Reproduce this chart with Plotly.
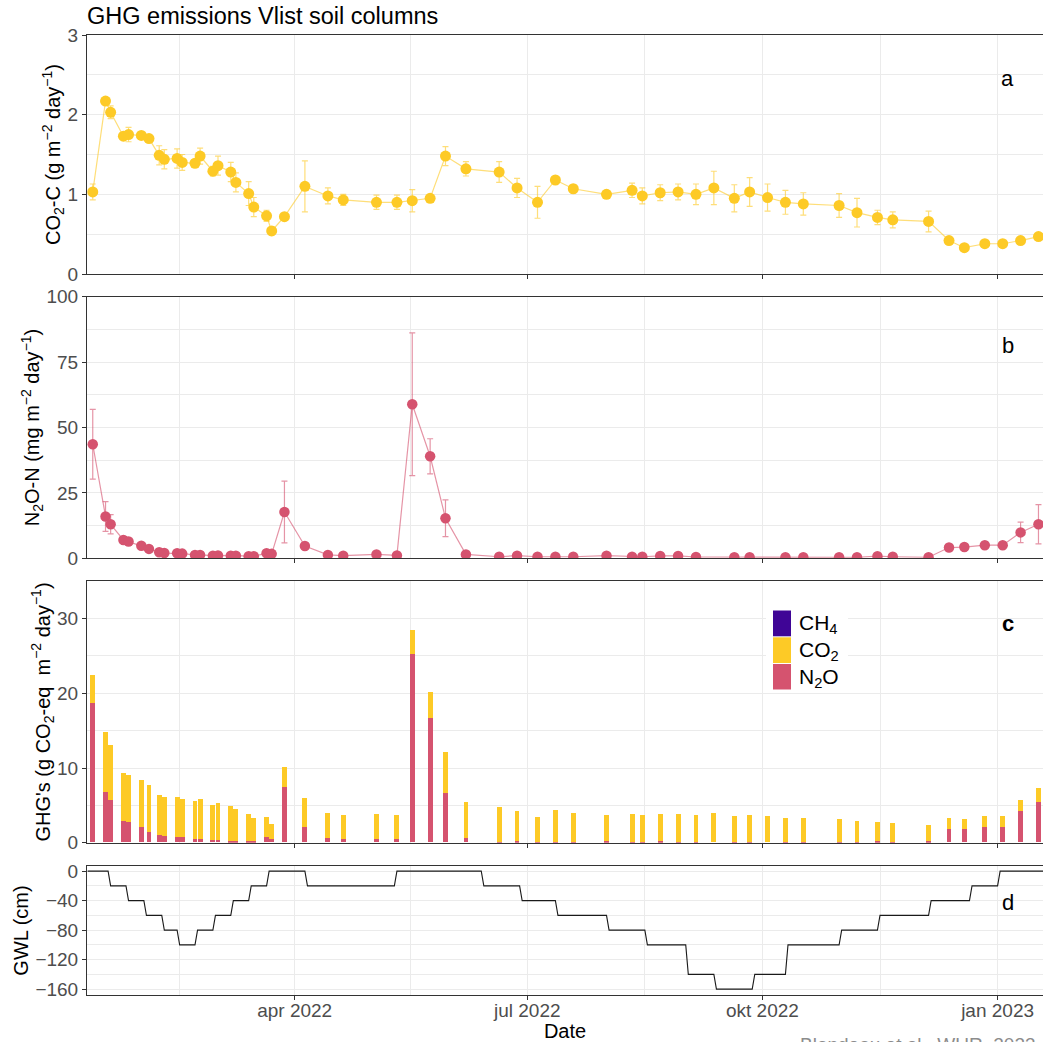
import plotly.graph_objects as go

# ---------------- data ----------------
dates = ["2022-01-12", "2022-01-17", "2022-01-19", "2022-01-24", "2022-01-26", "2022-01-31",
         "2022-02-03", "2022-02-07", "2022-02-09", "2022-02-14", "2022-02-16", "2022-02-21",
         "2022-02-23", "2022-02-28", "2022-03-02", "2022-03-07", "2022-03-09", "2022-03-14",
         "2022-03-16", "2022-03-21", "2022-03-23", "2022-03-28", "2022-04-05", "2022-04-14",
         "2022-04-20", "2022-05-03", "2022-05-11", "2022-05-17", "2022-05-24", "2022-05-30",
         "2022-06-07", "2022-06-20", "2022-06-27", "2022-07-05", "2022-07-12", "2022-07-19",
         "2022-08-01", "2022-08-11", "2022-08-15", "2022-08-22", "2022-08-29", "2022-09-05",
         "2022-09-12", "2022-09-20", "2022-09-26", "2022-10-03", "2022-10-10", "2022-10-17",
         "2022-10-31", "2022-11-07", "2022-11-15", "2022-11-21", "2022-12-05", "2022-12-13",
         "2022-12-19", "2022-12-27", "2023-01-03", "2023-01-10", "2023-01-17"]

co2_c = [1.03, 2.17, 2.03, 1.73, 1.75, 1.74, 1.70, 1.49, 1.44, 1.45,
         1.40, 1.39, 1.48, 1.29, 1.36, 1.28, 1.15, 1.01, 0.84, 0.73,
         0.54, 0.72, 1.10, 0.98, 0.93, 0.90, 0.90, 0.92, 0.95, 1.48,
         1.32, 1.28, 1.08, 0.90, 1.18, 1.07, 1.00, 1.05, 0.98, 1.02,
         1.03, 1.00, 1.08, 0.95, 1.03, 0.96, 0.90, 0.88, 0.86, 0.77,
         0.71, 0.68, 0.66, 0.42, 0.33, 0.38, 0.38, 0.42, 0.47]
co2_c_sd = [0.10, 0.03, 0.08, 0.04, 0.09, 0.03, 0.03, 0.12, 0.12, 0.12,
            0.10, 0.04, 0.10, 0.06, 0.12, 0.12, 0.12, 0.15, 0.12, 0.07,
            0.05, 0.03, 0.32, 0.10, 0.07, 0.09, 0.09, 0.14, 0.03, 0.12,
            0.09, 0.13, 0.12, 0.20, 0.03, 0.05, 0.04, 0.09, 0.10, 0.10,
            0.10, 0.13, 0.21, 0.17, 0.18, 0.17, 0.15, 0.14, 0.15, 0.18,
            0.09, 0.10, 0.13, 0.03, 0.03, 0.03, 0.03, 0.03, 0.04]

n2o_n = [43.6, 16.0, 13.0, 7.0, 6.4, 4.8, 3.6, 2.3, 2.0, 1.9,
         1.8, 1.3, 1.3, 1.0, 1.1, 1.0, 1.0, 0.8, 0.8, 1.9,
         1.7, 17.7, 4.7, 1.3, 1.0, 1.5, 1.1, 58.9, 39.0, 15.3,
         1.5, 0.6, 1.0, 0.6, 0.6, 0.6, 1.0, 0.6, 0.6, 0.9,
         0.9, 0.5, None, 0.4, 0.4, None, 0.4, 0.4, 0.4, 0.4,
         0.8, 0.6, 0.4, 4.1, 4.3, 5.0, 5.0, 9.9, 13.0]
n2o_n_sd = [13.3, 5.7, 3.7, 0.8, 0.6, 0.5, 0.4, 0.3, 0.3, 0.3,
            0.3, 0.2, 0.2, 0.2, 0.2, 0.2, 0.2, 0.2, 0.2, 0.4,
            0.3, 11.8, 0.8, 0.3, 0.2, 0.4, 0.3, 27.3, 6.7, 7.0,
            0.4, 0.2, 0.2, 0.2, 0.2, 0.2, 0.2, 0.2, 0.2, 0.2,
            0.2, 0.2, 0.0, 0.2, 0.2, 0.0, 0.2, 0.2, 0.2, 0.2,
            0.2, 0.2, 0.2, 0.5, 0.5, 0.6, 0.6, 3.9, 7.5]

# stacked bar segments, g CO2-eq m-2 day-1
ghg_n2o = [18.66, 6.79, 5.63, 2.90, 2.68, 2.00, 1.43, 0.98, 0.80, 0.71,
           0.71, 0.49, 0.49, 0.27, 0.36, 0.22, 0.22, 0.13, 0.13, 0.76,
           0.49, 7.46, 2.00, 0.54, 0.40, 0.49, 0.49, 25.27, 16.70, 6.65,
           0.63, 0.09, 0.22, 0.10, 0.10, 0.10, 0.13, 0.10, 0.10, 0.13,
           0.10, 0.10, 0.00, 0.10, 0.10, 0.00, 0.10, 0.10, 0.10, 0.10,
           0.13, 0.10, 0.13, 1.79, 1.79, 2.10, 2.10, 4.24, 5.45]
ghg_co2 = [3.80, 8.03, 7.45, 6.43, 6.38, 6.39, 6.25, 5.40, 5.27, 5.36,
           5.14, 5.09, 5.31, 4.73, 4.91, 4.69, 4.20, 3.71, 3.17, 2.63,
           1.97, 2.63, 3.94, 3.39, 3.31, 3.35, 3.22, 3.21, 3.43, 5.45,
           4.82, 4.64, 3.98, 3.29, 4.28, 3.87, 3.58, 3.74, 3.52, 3.71,
           3.74, 3.52, 3.97, 3.43, 3.61, 3.53, 3.20, 3.20, 3.07, 2.71,
           2.55, 2.46, 2.22, 1.51, 1.29, 1.43, 1.43, 1.47, 1.78]

gwl_dates = ["2022-01-10", "2022-01-18", "2022-01-19", "2022-01-25", "2022-01-26", "2022-02-01",
             "2022-02-02", "2022-02-08", "2022-02-09", "2022-02-14", "2022-02-15", "2022-02-21",
             "2022-02-22", "2022-02-28", "2022-03-01", "2022-03-07", "2022-03-08", "2022-03-14",
             "2022-03-15", "2022-03-21", "2022-03-22", "2022-04-05", "2022-04-06", "2022-05-10",
             "2022-05-11", "2022-06-13", "2022-06-14", "2022-06-28", "2022-06-29", "2022-07-12",
             "2022-07-13", "2022-08-01", "2022-08-02", "2022-08-16", "2022-08-17", "2022-09-01",
             "2022-09-02", "2022-09-12", "2022-09-13", "2022-09-27", "2022-09-28", "2022-10-10",
             "2022-10-11", "2022-10-31", "2022-11-01", "2022-11-15", "2022-11-16", "2022-12-05",
             "2022-12-06", "2022-12-21", "2022-12-22", "2023-01-01", "2023-01-02", "2023-01-21"]
gwl_cm = [0, 0, -20, -20, -40, -40, -60, -60, -80, -80, -100, -100,
          -80, -80, -60, -60, -40, -40, -20, -20, 0, 0, -20, -20,
          0, 0, -20, -20, -40, -40, -60, -60, -80, -80, -100, -100,
          -140, -140, -160, -160, -140, -140, -100, -100, -80, -80, -60, -60,
          -40, -40, -20, -20, 0, 0]

x_tick_vals = ["2022-04-01", "2022-07-01", "2022-10-01", "2023-01-01"]
x_tick_text = ["apr 2022", "jul 2022", "okt 2022", "jan 2023"]
x_minor_vals = ["2022-02-15", "2022-05-16 12:00", "2022-08-16", "2022-11-16"]

# ---------------- layout geometry ----------------
W, H = 1043, 1042
ML, MR, MT, MB = 87, 0, 35, 47
PW, PH = W - ML - MR, H - MT - MB


def px_x(px):
    return (px - ML) / PW


def px_y(py):
    return (H - MB - py) / PH


def dom(top, bot):
    return [px_y(bot), px_y(top)]


FONT = "Liberation Sans, Arial, sans-serif"
YEL = "#FDCA26"
YEL_L = "rgba(253,202,38,0.62)"
PINK = "#D5536F"
PINK_L = "rgba(213,83,111,0.62)"
PURP = "#3F0596"
GRID = "#EBEBEB"
BORDER = "#333333"
TICKC = "#4D4D4D"
BAR_W = 1.9 * 86400000

fig = go.Figure()

fig.add_trace(go.Scatter(
    x=dates, y=co2_c, mode="lines+markers", xaxis="x", yaxis="y",
    line=dict(color=YEL_L, width=1.2),
    marker=dict(color=YEL, size=11),
    error_y=dict(type="data", array=co2_c_sd, color=YEL_L, thickness=1.2, width=3),
    showlegend=False))

fig.add_trace(go.Scatter(
    x=dates, y=n2o_n, mode="lines+markers", xaxis="x2", yaxis="y2", connectgaps=True,
    line=dict(color=PINK_L, width=1.2),
    marker=dict(color=PINK, size=10.5),
    error_y=dict(type="data", array=n2o_n_sd, color=PINK_L, thickness=1.2, width=3),
    showlegend=False))

fig.add_trace(go.Bar(x=dates, y=ghg_n2o, width=BAR_W, xaxis="x3", yaxis="y3",
                     marker=dict(color=PINK, line=dict(width=0)), name="N2O", showlegend=False))
fig.add_trace(go.Bar(x=dates, y=ghg_co2, width=BAR_W, xaxis="x3", yaxis="y3",
                     marker=dict(color=YEL, line=dict(width=0)), name="CO2", showlegend=False))

fig.add_trace(go.Scatter(x=gwl_dates, y=gwl_cm, mode="lines", xaxis="x4", yaxis="y4",
                         line=dict(color="#1A1A1A", width=1.1), showlegend=False))

X0 = "2022-01-09 18:00"
X1 = "2023-01-18 18:30"


def xax(anchor, labels):
    return dict(
        type="date", range=[X0, X1], anchor=anchor,
        tickmode="array", tickvals=x_tick_vals, ticktext=x_tick_text,
        showticklabels=labels, tickfont=dict(family=FONT, size=19, color=TICKC),
        showgrid=True, gridcolor=GRID, gridwidth=1,
        minor=dict(tickmode="array", tickvals=x_minor_vals, showgrid=True,
                   gridcolor=GRID, gridwidth=0.6, ticks=""),
        showline=True, linecolor=BORDER, linewidth=1, mirror=True,
        ticks="outside", ticklen=4, tickcolor=BORDER, tickwidth=1,
        zeroline=False, automargin=False)


def yax(domain, rng, vals, minor_vals, title):
    return dict(
        domain=domain, range=rng, tickmode="array", tickvals=vals,
        tickfont=dict(family=FONT, size=19, color=TICKC),
        showgrid=True, gridcolor=GRID, gridwidth=1,
        minor=dict(tickmode="array", tickvals=minor_vals, showgrid=True,
                   gridcolor=GRID, gridwidth=0.6, ticks=""),
        showline=True, linecolor=BORDER, linewidth=1, mirror=False,
        ticks="outside", ticklen=4, tickcolor=BORDER, tickwidth=1,
        zeroline=False, automargin=False,
        title=dict(text=title, font=dict(family=FONT, size=20, color="black"), standoff=1))


xa4 = xax("y4", True)
xa4["ticklabelstandoff"] = -6
xa4["title"] = dict(text="Date", font=dict(family=FONT, size=20, color="black"), standoff=2)

fig.update_layout(
    width=W, height=H,
    margin=dict(l=ML, r=MR, t=MT, b=MB, autoexpand=False),
    paper_bgcolor="white", plot_bgcolor="white",
    font=dict(family=FONT),
    barmode="stack", bargap=0,
    showlegend=False,
    xaxis=xax("y", False),
    xaxis2=xax("y2", False),
    xaxis3=xax("y3", False),
    xaxis4=xa4,
    yaxis=yax(dom(35, 274), [0, 3], [0, 1, 2, 3], [0.5, 1.5, 2.5],
              "CO<sub>2</sub>-C (g m<sup>−2</sup> day<sup>−1</sup>)"),
    yaxis2=yax(dom(296.7, 558.3), [0, 100], [0, 25, 50, 75, 100], [12.5, 37.5, 62.5, 87.5],
               "N<sub>2</sub>O-N (mg m<sup>−2</sup> day<sup>−1</sup>)"),
    yaxis3=yax(dom(581.3, 842.7), [0, 35], [0, 10, 20, 30], [5, 15, 25],
               "GHG's (g CO<sub>2</sub>-eq  m<sup>−2</sup> day<sup>−1</sup>)"),
    yaxis4=yax(dom(866, 995), [-168, 7], [0, -40, -80, -120, -160], [-20, -60, -100, -140],
               "GWL (cm)"),
)

annotations = [
    dict(text="GHG emissions Vlist soil columns", xref="paper", yref="paper",
         x=px_x(85), y=px_y(16), xanchor="left", yanchor="middle", showarrow=False,
         font=dict(family=FONT, size=23.5, color="black")),
    dict(text="Blandeau et al., WUR, 2023", xref="paper", yref="paper",
         x=px_x(1038), y=px_y(1032), xanchor="right", yanchor="top", showarrow=False,
         font=dict(family=FONT, size=19, color="#8C8C8C")),
    dict(text="a", xref="x", yref="y", x="2023-01-05", y=2.45, showarrow=False,
         font=dict(family=FONT, size=22, color="black")),
    dict(text="b", xref="x2", yref="y2", x="2023-01-05", y=81.5, showarrow=False,
         font=dict(family=FONT, size=22, color="black")),
    dict(text="<b>c</b>", xref="x3", yref="y3", x="2023-01-05", y=29.4, showarrow=False,
         font=dict(family=FONT, size=22, color="black")),
    dict(text="d", xref="x4", yref="y4", x="2023-01-05", y=-43, showarrow=False,
         font=dict(family=FONT, size=22, color="black")),
]

# manual legend (ggplot-style tall keys)
legend_items = [("CH<sub>4</sub>", PURP, 610.5, 636.3),
                ("CO<sub>2</sub>", YEL, 637.3, 663.0),
                ("N<sub>2</sub>O", PINK, 664.0, 689.5)]
shapes = [dict(type="rect", xref="paper", yref="paper", layer="above",
               x0=px_x(766), x1=px_x(848), y0=px_y(693), y1=px_y(605),
               fillcolor="white", line=dict(width=0))]
for label, col, top, bot in legend_items:
    shapes.append(dict(type="rect", xref="paper", yref="paper", layer="above",
                       x0=px_x(773), x1=px_x(791), y0=px_y(bot), y1=px_y(top),
                       fillcolor=col, line=dict(width=0)))
    annotations.append(dict(text=label, xref="paper", yref="paper",
                            x=px_x(797), y=px_y((top + bot) / 2 + 1), xanchor="left",
                            yanchor="middle", showarrow=False,
                            font=dict(family=FONT, size=21, color="black")))

fig.update_layout(annotations=annotations, shapes=shapes)

fig.write_html("out.html", config={"displayModeBar": False},
               post_script="document.body.style.margin='0';document.body.style.overflow='hidden';")
